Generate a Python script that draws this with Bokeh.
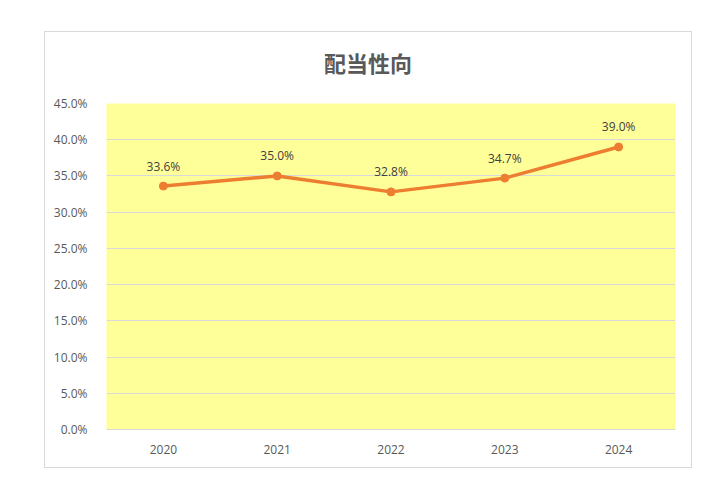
from bokeh.plotting import figure
from bokeh.models import ColumnDataSource, Range1d, FixedTicker, Label, CustomJSTickFormatter
from bokeh.core.properties import value
from bokeh.embed import file_html
from bokeh.resources import INLINE

years = ["2020", "2021", "2022", "2023", "2024"]
payout_ratio = [33.6, 35.0, 32.8, 34.7, 39.0]
y_ticks = [0, 5, 10, 15, 20, 25, 30, 35, 40, 45]
title_text = "配当性向"

labels = [f"{v:.1f}%" for v in payout_ratio]
src = ColumnDataSource(dict(x=years, y=payout_ratio, label=labels))

p = figure(x_range=years, y_range=Range1d(0, 45), width=646, height=435,
           output_backend="svg", toolbar_location=None,
           min_border_left=61, min_border_right=16, min_border_top=71, min_border_bottom=38)
p.margin = (32, 0, 0, 45)
p.styles = {"outline": "1px solid #d9d9d9"}
p.title.visible = False

p.background_fill_color = "#FFFF99"
p.border_fill_color = "white"
p.outline_line_color = None

title = Label(x=261.5, y=42, x_units="screen", y_units="screen", text=title_text,
              text_align="center", text_baseline="middle",
              text_font="Noto Sans CJK JP", text_font_size="22px", text_font_style="bold",
              text_color="#595959")
p.add_layout(title, "above")

p.xgrid.grid_line_color = None
p.ygrid.grid_line_color = "#d9d9d9"
p.ygrid.grid_line_width = 1

p.yaxis.ticker = FixedTicker(ticks=y_ticks)
p.yaxis.formatter = CustomJSTickFormatter(code="return tick.toFixed(1) + '%';")
p.yaxis.axis_line_color = None
p.yaxis.major_tick_line_color = None
p.yaxis.minor_tick_line_color = None
p.yaxis.major_label_standoff = 13

p.xaxis.axis_line_color = "#d9d9d9"
p.xaxis.major_tick_line_color = None
p.xaxis.minor_tick_line_color = None
p.xaxis.major_label_standoff = 9

for ax in (p.xaxis[0], p.yaxis[0]):
    ax.major_label_text_font = "Open Sans"
    ax.major_label_text_font_size = "12px"
    ax.major_label_text_color = "#595959"

p.line("x", "y", source=src, line_color="#ED7D31", line_width=3.5)
p.scatter("x", "y", source=src, size=8, fill_color="#ED7D31", line_color="#ED7D31")
p.text("x", "y", text="label", source=src, text_align="center", text_baseline="middle",
       y_offset=-20, text_font=value("Open Sans"), text_font_size="12px", text_color="#404040")

open("out.html", "w").write(file_html(p, INLINE))
